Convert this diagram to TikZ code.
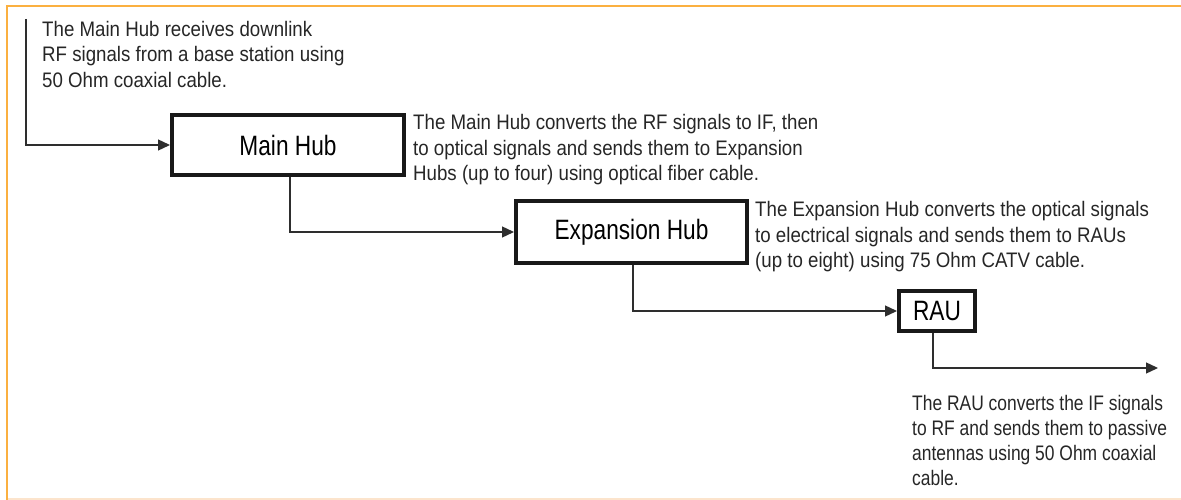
\documentclass[tikz,border=0pt]{standalone}
\usepackage{fontspec}
\usetikzlibrary{arrows.meta}
\newfontfamily\notefont[FakeStretch=0.89]{Liberation Sans}
\newfontfamily\raunotefont[FakeStretch=0.83]{Liberation Sans}
\newfontfamily\hubfont[FakeStretch=0.81]{Liberation Sans}
\definecolor{frameorange}{HTML}{FBB040}
\definecolor{framepeach}{HTML}{FCE4CC}
\definecolor{wiregray}{HTML}{2E2E2E}
\tikzset{
  hubbox/.style={draw=black!90, line width=4pt, inner sep=0pt,
    font=\hubfont\fontsize{28}{32}\selectfont},
  note/.style={anchor=north west, inner sep=0pt, align=left,
    font=\notefont\fontsize{21}{25.5}\selectfont, text=black!85},
  wire/.style={draw=wiregray, line width=1.3pt,
    -{Triangle[length=12pt,width=11pt]}}
}
\begin{document}
\begin{tikzpicture}[x=1pt,y=-1pt]
  \useasboundingbox (0,0) rectangle (1181,500);
  % frame round the figure
  \draw[framepeach, line width=1.5pt] (8,499) -- (1181,499);
  \draw[frameorange, line width=2pt] (7,500) -- (7,6) -- (1181,6);
  % the three boxes
  \node[hubbox, minimum width=232pt, minimum height=60pt] (main) at (288,145) {Main Hub};
  \node[hubbox, minimum width=231pt, minimum height=62pt] (exp) at (631.5,232) {Expansion Hub};
  \node[hubbox, minimum width=76pt, minimum height=40pt] (rau) at (937,311) {RAU};
  % free ends
  \coordinate (in) at (26,19);
  \coordinate (out) at (1158,368);
  % connectors
  \draw[wire] (in) |- (main.west);
  \draw[wire] ([xshift=2pt]main.south) |- (exp.west);
  \draw[wire] ([xshift=1.5pt]exp.south) |- (rau.west);
  \draw[wire] ([xshift=-4pt]rau.south) |- (out);
  % notes
  \node[note] (innote) at (42,21) {The Main Hub receives downlink\\RF signals from a base station using\\50 Ohm coaxial cable.};
  \node[note] (mainnote) at (413,114.5) {The Main Hub converts the RF signals to IF, then\\to optical signals and sends them to Expansion\\Hubs (up to four) using optical fiber cable.};
  \node[note] (expnote) at (755,201.5) {The Expansion Hub converts the optical signals\\to electrical signals and sends them to RAUs\\(up to eight) using 75 Ohm CATV cable.};
  \node[note, font=\raunotefont\fontsize{21}{25}\selectfont] (raunote) at (912,395) {The RAU converts the IF signals\\to RF and sends them to passive\\antennas using 50 Ohm coaxial\\cable.};
\end{tikzpicture}
\end{document}
